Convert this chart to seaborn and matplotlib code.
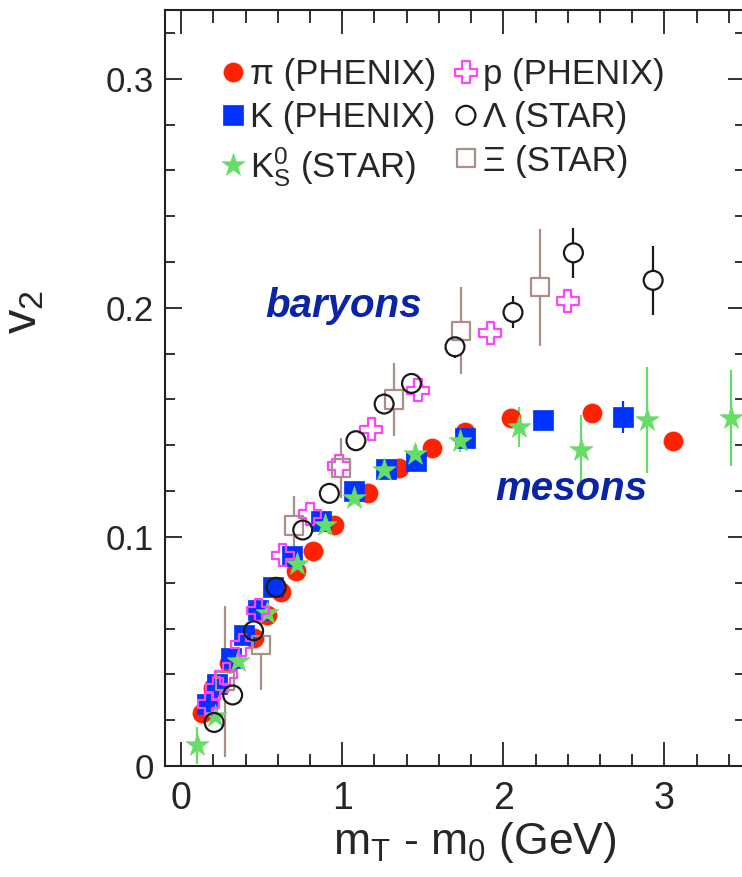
import matplotlib
matplotlib.use('Agg')
import matplotlib.pyplot as plt
import seaborn as sns
from matplotlib.ticker import MultipleLocator, FuncFormatter

# values (v2 vs mT - m0)
pi_x = [0.13, 0.20, 0.30, 0.45, 0.53, 0.62, 0.71, 0.82, 0.95, 1.16, 1.35, 1.56, 1.76, 2.05, 2.55, 3.05]
pi_y = [0.023, 0.034, 0.045, 0.056, 0.066, 0.076, 0.085, 0.094, 0.105, 0.119, 0.130, 0.139, 0.146, 0.152, 0.154, 0.142]
pi_err = [0.001, 0.001, 0.001, 0.001, 0.001, 0.001, 0.001, 0.001, 0.001, 0.001, 0.001, 0.001, 0.002, 0.002, 0.002, 0.004]

k_x = [0.16, 0.225, 0.31, 0.39, 0.48, 0.57, 0.69, 0.87, 1.07, 1.27, 1.46, 1.76, 2.245, 2.74]
k_y = [0.027, 0.036, 0.047, 0.057, 0.068, 0.078, 0.0915, 0.107, 0.120, 0.1295, 0.133, 0.143, 0.151, 0.1525]
k_err = [0.001, 0.001, 0.001, 0.001, 0.001, 0.001, 0.001, 0.001, 0.001, 0.002, 0.002, 0.003, 0.004, 0.007]

ks_x = [0.10, 0.21, 0.35, 0.53, 0.72, 0.89, 1.075, 1.26, 1.45, 1.73, 2.10, 2.48, 2.89, 3.41]
ks_y = [0.009, 0.022, 0.046, 0.067, 0.088, 0.105, 0.117, 0.129, 0.136, 0.142, 0.148, 0.138, 0.151, 0.152]
ks_err = [0.008, 0.003, 0.002, 0.002, 0.002, 0.002, 0.002, 0.003, 0.004, 0.005, 0.0087, 0.0153, 0.023, 0.021]

p_x = [0.17, 0.22, 0.28, 0.38, 0.48, 0.63, 0.80, 0.98, 1.18, 1.47, 1.92, 2.40]
p_y = [0.027, 0.034, 0.040, 0.053, 0.068, 0.092, 0.110, 0.131, 0.147, 0.164, 0.189, 0.203]

lam_x = [0.205, 0.32, 0.45, 0.59, 0.755, 0.92, 1.085, 1.26, 1.43, 1.70, 2.06, 2.435, 2.93]
lam_y = [0.019, 0.031, 0.059, 0.078, 0.103, 0.119, 0.142, 0.158, 0.167, 0.183, 0.198, 0.224, 0.212]
lam_err = [0.004, 0.003, 0.002, 0.002, 0.002, 0.002, 0.002, 0.003, 0.004, 0.005, 0.007, 0.011, 0.015]

xi_x = [0.27, 0.495, 0.70, 0.99, 1.32, 1.74, 2.23]
xi_y = [0.037, 0.053, 0.105, 0.130, 0.160, 0.190, 0.209]
xi_err = [0.033, 0.020, 0.013, 0.013, 0.016, 0.019, 0.0255]

sns.set_theme(style='ticks')
plt.rcParams['font.family'] = ['Liberation Sans', 'DejaVu Sans']
plt.rcParams['mathtext.default'] = 'regular'

fig = plt.figure(figsize=(7.42, 8.77), dpi=100)
ax = fig.add_axes([165 / 742, 111 / 877, 580 / 742, 756 / 877])

handles = []


def add_series(x, y, err, marker, s, face, edge, lw, label, z):
    # error bars sit at the bottom, open symbols get a white backing just above them
    if err is not None:
        ax.errorbar(x, y, yerr=err, fmt='none', ecolor=edge, elinewidth=1.6,
                    capsize=0, zorder=1)
    if face == 'none':
        sns.scatterplot(x=x, y=y, marker=marker, s=s, color='white', edgecolor='none',
                        linewidth=0, ax=ax, zorder=1.5, legend=False)
    sns.scatterplot(x=x, y=y, marker=marker, s=s, color=face, edgecolor=edge,
                    linewidth=lw, label=label, ax=ax, zorder=z, legend=False)
    handles.append(ax.collections[-1])


add_series(pi_x, pi_y, pi_err, 'o', 190, '#ff2200', '#ff2200', 0.5, 'π (PHENIX)', 2)
add_series(k_x, k_y, k_err, 's', 200, '#0033ff', '#0033ff', 0.5, 'K (PHENIX)', 3)
add_series(ks_x, ks_y, ks_err, '*', 300, '#66dd66', '#66dd66', 0.5, 'K$^0_S$ (STAR)', 4)
add_series(p_x, p_y, None, 'P', 250, 'none', '#ff44ff', 1.6, 'p (PHENIX)', 5)
add_series(xi_x, xi_y, xi_err, 's', 170, 'none', '#a89088', 1.6, 'Ξ (STAR)', 6)
add_series(lam_x, lam_y, lam_err, 'o', 185, 'none', '#1a1a1a', 1.6, 'Λ (STAR)', 7)

# legend order: pi, K, K0S | p, Lambda, Xi
order = [0, 1, 2, 3, 5, 4]
ax.legend([handles[i] for i in order], [handles[i].get_label() for i in order],
          ncol=2, loc='upper left', bbox_to_anchor=(0.099, 0.936),
          frameon=False, fontsize=25, handlelength=0.6, handletextpad=0.2,
          columnspacing=0.55, labelspacing=0.29, borderpad=0, borderaxespad=0,
          scatterpoints=1, scatteryoffsets=[0.5])

ax.text(1.01, 0.2007, 'baryons', color='#0a24a8', fontsize=29, fontweight='bold',
        fontstyle='italic', ha='center', va='center')
ax.text(2.42, 0.1207, 'mesons', color='#0a24a8', fontsize=29, fontweight='bold',
        fontstyle='italic', ha='center', va='center')

ax.set_xlim(-0.1, 3.5)
ax.set_ylim(0, 0.33)
ax.xaxis.set_major_locator(MultipleLocator(1))
ax.xaxis.set_minor_locator(MultipleLocator(0.2))
ax.yaxis.set_major_locator(MultipleLocator(0.1))
ax.yaxis.set_minor_locator(MultipleLocator(0.02))
ax.xaxis.set_major_formatter(FuncFormatter(lambda v, _: f'{v:.0f}'))
ax.yaxis.set_major_formatter(FuncFormatter(lambda v, _: '0' if abs(v) < 1e-9 else f'{v:.1f}'))

ax.tick_params(which='both', direction='in', top=True, right=True,
               width=1.3, color='#222222')
ax.tick_params(axis='x', which='major', length=17, labelsize=27, pad=11)
ax.tick_params(axis='x', which='minor', length=9)
ax.tick_params(axis='y', which='major', length=12, labelsize=25, pad=8)
ax.tick_params(axis='y', which='minor', length=7)
for sp in ax.spines.values():
    sp.set_linewidth(1.5)
    sp.set_color('#222222')

ax.set_xlabel('m$_T$ - m$_0$ (GeV)', fontsize=32)
ax.set_ylabel('v$_2$', fontsize=35)
ax.xaxis.set_label_coords(0.534, -0.072)
ax.yaxis.set_label_coords(-0.205, 0.6)

plt.savefig('out.png', dpi=100)
plt.close()
